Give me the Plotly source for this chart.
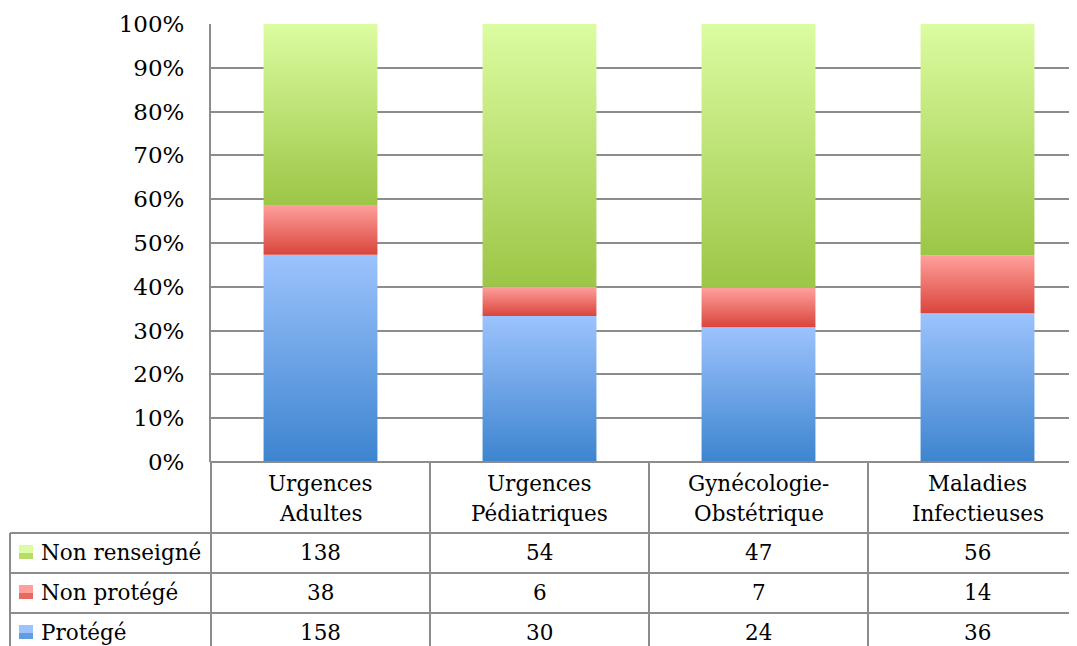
import plotly.graph_objects as go

categories = ["Urgences\nAdultes", "Urgences\nPédiatriques", "Gynécologie-\nObstétrique", "Maladies\nInfectieuses"]
series_names = ["Protégé", "Non protégé", "Non renseigné"]
protege = [158, 30, 24, 36]
non_protege = [38, 6, 7, 14]
non_renseigne = [138, 54, 47, 56]
y_ticks = [0, 10, 20, 30, 40, 50, 60, 70, 80, 90, 100]

series_values = [protege, non_protege, non_renseigne]
# gradient colors (bottom, top)
grad = [("#3d84cf", "#9cc3fd"), ("#d9453c", "#ffa09c"), ("#9cc646", "#dcfca1")]

W, H = 1077, 646
OFF = 8  # page body margin
FONT = "DejaVu Serif"
GRAY = "#8c8c8c"
FS = 21.5

def px(x):
    return (x - OFF) / W

def py(y):
    return 1 - (y - OFF) / H

fig = go.Figure()

totals = [sum(v[i] for v in series_values) for i in range(len(categories))]
half = 0.26
for i in range(len(categories)):
    base = 0.0
    for s, vals in enumerate(series_values):
        pct = vals[i] / totals[i] * 100
        top = base + pct
        fig.add_trace(go.Scatter(
            x=[i - half, i + half, i + half, i - half, i - half],
            y=[base, base, top, top, base],
            mode="lines", line=dict(width=0), fill="toself",
            fillgradient=dict(type="vertical", start=base, stop=top,
                              colorscale=[[0, grad[s][0]], [1, grad[s][1]]]),
            name=series_names[s], showlegend=False, hoverinfo="skip"))
        base = top

x_left = px(211)
x_right = 1.0
ncols = (x_right - x_left) * W / 219

fig.update_layout(
    width=W, height=H,
    margin=dict(l=0, r=0, t=0, b=0, pad=0, autoexpand=False),
    paper_bgcolor="white", plot_bgcolor="white",
    font=dict(family=FONT, size=FS, color="black"),
    xaxis=dict(domain=[x_left, x_right], range=[-0.5, -0.5 + ncols], automargin=False,
               showgrid=False, zeroline=False, showticklabels=False, fixedrange=True),
    yaxis=dict(domain=[py(462), py(24)], range=[0, 100], tickvals=y_ticks,
               ticktext=[f"{v}%" for v in y_ticks], automargin=False,
               showgrid=True, gridcolor=GRAY, gridwidth=2,
               zeroline=False, showline=True, linecolor=GRAY, linewidth=2,
               ticks="", ticklabelstandoff=20, tickfont=dict(size=23, family=FONT)),
)

shapes = []
def line(x0, y0, x1, y1):
    shapes.append(dict(type="line", xref="paper", yref="paper",
                       x0=px(x0), y0=py(y0), x1=px(x1), y1=py(y1),
                       line=dict(color=GRAY, width=2)))

col_edges = [211, 430, 649, 868, 1087]
row_edges = [533, 573, 613, 653]
for y in row_edges[:-1]:
    line(10, y, W + 20, y)
line(10, 533, 10, H + 20)
for x in col_edges[:-1]:
    line(x, 462, x, H + 20)
line(211, 462, W + 20, 462)

annotations = []
for i, cat in enumerate(categories):
    cx = (col_edges[i] + col_edges[i + 1]) / 2
    for k, txt in enumerate(cat.split("\n")):
        annotations.append(dict(text=txt, x=px(cx), y=py(483 + 30 * k), xref="paper", yref="paper",
                                showarrow=False, xanchor="center", yanchor="middle",
                                font=dict(size=FS, family=FONT)))

table_rows = [(series_names[2], non_renseigne, grad[2]),
              (series_names[1], non_protege, grad[1]),
              (series_names[0], protege, grad[0])]
for r, (name, vals, g) in enumerate(table_rows):
    cy = (row_edges[r] + row_edges[r + 1]) / 2 - 1
    annotations.append(dict(text=name, x=px(39), y=py(cy), xref="paper", yref="paper",
                            showarrow=False, xanchor="left", yanchor="middle",
                            font=dict(size=FS, family=FONT)))
    shapes.append(dict(type="rect", xref="paper", yref="paper",
                       x0=px(19), x1=px(33), y0=py(cy + 7), y1=py(cy - 7),
                       fillcolor=g[1], line=dict(width=0)))
    shapes.append(dict(type="rect", xref="paper", yref="paper",
                       x0=px(19), x1=px(33), y0=py(cy + 7), y1=py(cy + 1),
                       fillcolor=g[0], opacity=0.6, line=dict(width=0)))
    for i, v in enumerate(vals):
        cx = (col_edges[i] + col_edges[i + 1]) / 2
        annotations.append(dict(text=str(v), x=px(cx), y=py(cy), xref="paper", yref="paper",
                                showarrow=False, xanchor="center", yanchor="middle",
                                font=dict(size=FS, family=FONT)))

fig.update_layout(shapes=shapes, annotations=annotations)
fig.write_html("out.html")
